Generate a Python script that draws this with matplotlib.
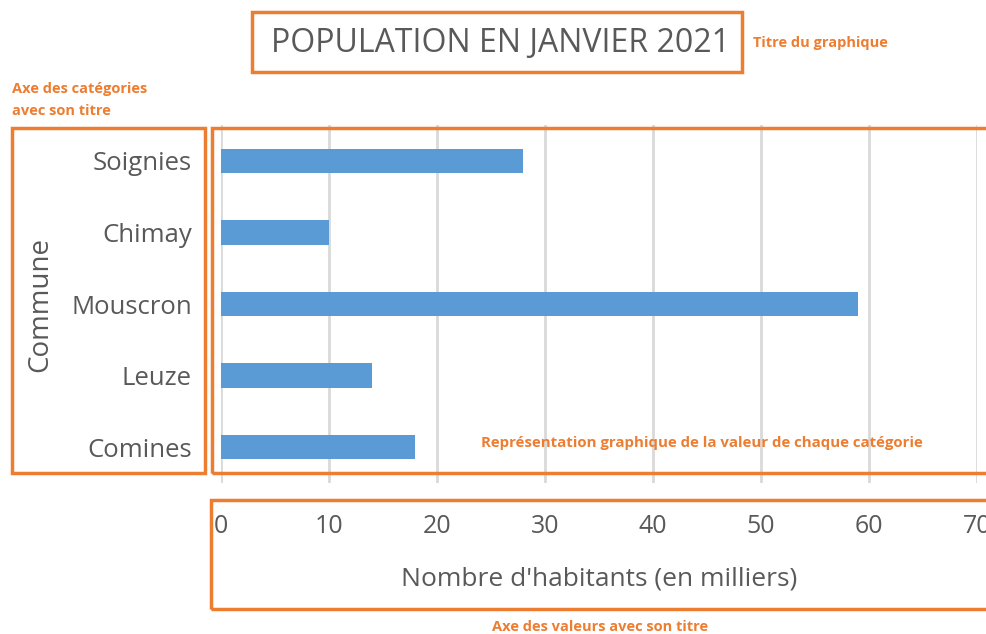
import matplotlib
matplotlib.use("Agg")
import matplotlib.pyplot as plt
from matplotlib.patches import Rectangle

communes = ["Soignies", "Chimay", "Mouscron", "Leuze", "Comines"]
habitants = [28, 10, 59, 14, 18]
xticks = [0, 10, 20, 30, 40, 50, 60, 70]

title = "POPULATION EN JANVIER 2021"
xlabel = "Nombre d'habitants (en milliers)"
ylabel = "Commune"
notes = {
    "title": "Titre du graphique",
    "cat": "Axe des catégories\navec son titre",
    "plot": "Représentation graphique de la valeur de chaque catégorie",
    "val": "Axe des valeurs avec son titre",
}

W, H = 987, 634
plt.rcParams['font.family'] = ['Open Sans', 'DejaVu Sans']
fig = plt.figure(figsize=(W / 100, H / 100), dpi=100)
fig.patch.set_facecolor("white")

def fx(px):
    return px / W

def fy(py):
    return 1 - py / H

ax = fig.add_axes([fx(221), fy(483), fx(977) - fx(221), fy(125) - fy(483)])
ypos = list(range(len(communes)))[::-1]
ax.barh(ypos, habitants, height=0.34, color="#5B9BD5", zorder=3)
ax.set_xlim(0, 70)
ax.set_ylim(-0.5, len(communes) - 0.5)
ax.set_yticks(ypos)
ax.set_yticklabels(communes, fontsize=18.5, color="#595959")
ax.set_xticks(xticks)
ax.set_xticklabels([str(t) for t in xticks], fontsize=18, color="#595959")
ax.tick_params(axis="both", length=0)
ax.tick_params(axis="y", pad=21)
ax.tick_params(axis="x", pad=22)
ax.grid(axis="x", color="#D9D9D9", linewidth=2, zorder=0)
for s in ax.spines.values():
    s.set_visible(False)
ax.set_xlabel(xlabel, fontsize=19, color="#595959", labelpad=20)
ax.set_ylabel(ylabel, fontsize=20, color="#595959", labelpad=12)

orange = "#ED7D31"
boxes = [(252, 12, 742, 72), (12, 128, 205, 473), (212, 128, 1000, 473), (211, 500, 1000, 609)]
for x0, y0, x1, y1 in boxes:
    fig.patches.append(Rectangle((fx(x0), fy(y1)), fx(x1) - fx(x0), fy(y0) - fy(y1),
                                 transform=fig.transFigure, fill=False,
                                 edgecolor=orange, linewidth=2.5, zorder=10))

fig.text(fx(501), fy(43), title, fontsize=23, color="#595959", ha="center", va="center")
fig.text(fx(753), fy(43), notes["title"], fontsize=10.5, color=orange, fontweight="bold", ha="left", va="center")
fig.text(fx(12), fy(100), notes["cat"], fontsize=10.5, color=orange, fontweight="bold", ha="left", va="center", linespacing=1.75)
fig.text(fx(481), fy(443), notes["plot"], fontsize=10.8, color=orange, fontweight="bold", ha="left", va="center")
fig.text(fx(600), fy(627), notes["val"], fontsize=10.5, color=orange, fontweight="bold", ha="center", va="center")

fig.savefig("out.png", dpi=100)
